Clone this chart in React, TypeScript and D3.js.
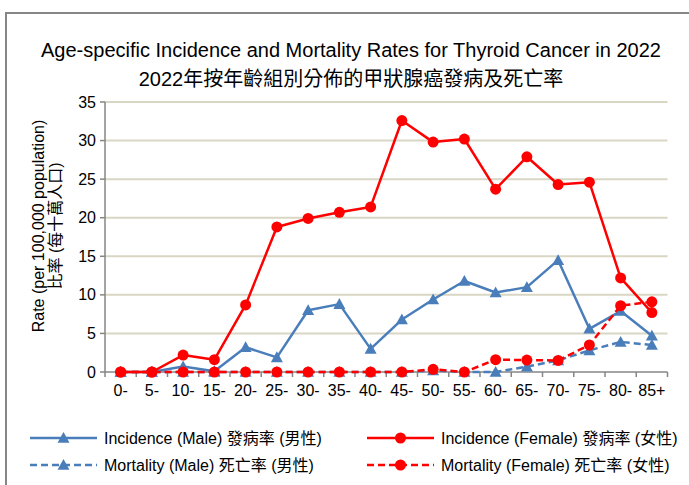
import React from "react";
import * as d3 from "d3";

const categories = ["0-", "5-", "10-", "15-", "20-", "25-", "30-", "35-", "40-", "45-", "50-", "55-", "60-", "65-", "70-", "75-", "80-", "85+"];
const incidenceMale = [0, 0, 0.7, 0.1, 3.2, 1.9, 8.0, 8.8, 3.0, 6.8, 9.4, 11.8, 10.3, 11.0, 14.5, 5.6, 7.9, 4.7];
const incidenceFemale = [0, 0, 2.2, 1.6, 8.7, 18.8, 19.9, 20.7, 21.4, 32.6, 29.8, 30.2, 23.7, 27.9, 24.3, 24.6, 12.2, 7.7];
const mortalityMale = [0, 0, 0, 0, 0, 0, 0, 0, 0, 0, 0.2, 0, 0, 0.7, 1.5, 2.8, 3.9, 3.5];
const mortalityFemale = [0, 0, 0, 0, 0, 0, 0, 0, 0, 0, 0.35, 0, 1.6, 1.55, 1.5, 3.5, 8.6, 9.1];
const yTicks = [0, 5, 10, 15, 20, 25, 30, 35];

const titleEn = "Age-specific Incidence and Mortality Rates for Thyroid Cancer in 2022";
const titleZh = "2022年按年齡組別分佈的甲狀腺癌發病及死亡率";
const yTitleEn = "Rate (per 100,000 population)";
const yTitleZh = "比率 (每十萬人口)";

const BLUE = "#4a7ebb";
const RED = "#ff0000";
const FONT = "'Liberation Sans', Arial, 'Noto Sans CJK TC', sans-serif";

type Series = { name: string; values: number[]; color: string; dashed: boolean; marker: "tri" | "circle" };
const series: Series[] = [
  { name: "Incidence (Male) 發病率 (男性)", values: incidenceMale, color: BLUE, dashed: false, marker: "tri" },
  { name: "Mortality (Male) 死亡率 (男性)", values: mortalityMale, color: BLUE, dashed: true, marker: "tri" },
  { name: "Incidence (Female) 發病率 (女性)", values: incidenceFemale, color: RED, dashed: false, marker: "circle" },
  { name: "Mortality (Female) 死亡率 (女性)", values: mortalityFemale, color: RED, dashed: true, marker: "circle" },
];

function Marker({ kind, x, y, color }: { kind: "tri" | "circle"; x: number; y: number; color: string }) {
  if (kind === "circle") return <circle cx={x} cy={y} r={5.5} fill={color} />;
  const s = 6;
  return <path d={`M${x},${y - s}L${x + s},${y + s * 0.8}L${x - s},${y + s * 0.8}Z`} fill={color} />;
}

export default function App() {
  const W = 689, H = 485;
  const left = 105, right = 667.5, top = 102, bottom = 372;
  const x = d3.scaleBand<string>().domain(categories).range([left, right]);
  const y = d3.scaleLinear().domain([0, 35]).range([bottom, top]);
  const cx = (c: string) => (x(c) as number) + x.bandwidth() / 2;
  const line = d3.line<number>().x((_, i) => cx(categories[i])).y((v) => y(v));
  const bounds = categories.map((c) => x(c) as number).concat([right]);

  const legendItems = [
    { s: series[0], lx: 30, row: 0 },
    { s: series[2], lx: 367, row: 0 },
    { s: series[1], lx: 30, row: 1 },
    { s: series[3], lx: 367, row: 1 },
  ];

  return (
    <div style={{ position: "absolute", left: 0, top: 0 }}>
      <svg width={W} height={H} style={{ display: "block", fontFamily: FONT }}>
        <rect x={0} y={0} width={W} height={H} fill="#fff" />
        <rect x={6} y={13} width={W + 20} height={H + 20} fill="none" stroke="#868686" strokeWidth={2} />
        <text x={351} y={57} textAnchor="middle" fontSize={20} fill="#000">{titleEn}</text>
        <text x={351} y={86} textAnchor="middle" fontSize={20} fill="#000">{titleZh}</text>

        {yTicks.map((t) => (
          <g key={t}>
            {t > 0 && <line x1={left} x2={right} y1={y(t)} y2={y(t)} stroke="#d9d6c3" strokeWidth={2} />}
            <line x1={left - 5} x2={left} y1={y(t)} y2={y(t)} stroke="#868686" strokeWidth={1.5} />
            <text x={96} y={y(t) + 5.5} textAnchor="end" fontSize={16} fill="#000">{t}</text>
          </g>
        ))}
        <line x1={left} x2={left} y1={top} y2={bottom} stroke="#868686" strokeWidth={1.5} />
        <line x1={left} x2={right} y1={bottom} y2={bottom} stroke="#868686" strokeWidth={1.5} />
        {bounds.map((b, i) => (
          <line key={i} x1={b} x2={b} y1={bottom} y2={bottom + 5} stroke="#868686" strokeWidth={1.5} />
        ))}
        {categories.map((c) => (
          <text key={c} x={cx(c)} y={396} textAnchor="middle" fontSize={16} fill="#000">{c}</text>
        ))}

        <g transform="translate(44,226) rotate(-90)">
          <text x={0} y={0} textAnchor="middle" fontSize={16} fill="#000">{yTitleEn}</text>
          <text x={0} y={17} textAnchor="middle" fontSize={16} fill="#000">{yTitleZh}</text>
        </g>

        {series.map((s) => (
          <g key={s.name}>
            <path d={line(s.values) || ""} fill="none" stroke={s.color} strokeWidth={2.5} strokeDasharray={s.dashed ? "7,4" : undefined} strokeLinejoin="round" />
            {s.values.map((v, i) => (
              <Marker key={i} kind={s.marker} x={cx(categories[i])} y={y(v)} color={s.color} />
            ))}
          </g>
        ))}

        {legendItems.map(({ s, lx, row }) => {
          const ly = 438 + row * 27;
          return (
            <g key={s.name}>
              <line x1={lx} x2={lx + 67} y1={ly} y2={ly} stroke={s.color} strokeWidth={2.5} strokeDasharray={s.dashed ? "7,4" : undefined} />
              <Marker kind={s.marker} x={lx + 33.5} y={ly} color={s.color} />
              <text x={lx + 74} y={ly + 5.5} fontSize={16} fill="#000">{s.name}</text>
            </g>
          );
        })}
      </svg>
    </div>
  );
}
